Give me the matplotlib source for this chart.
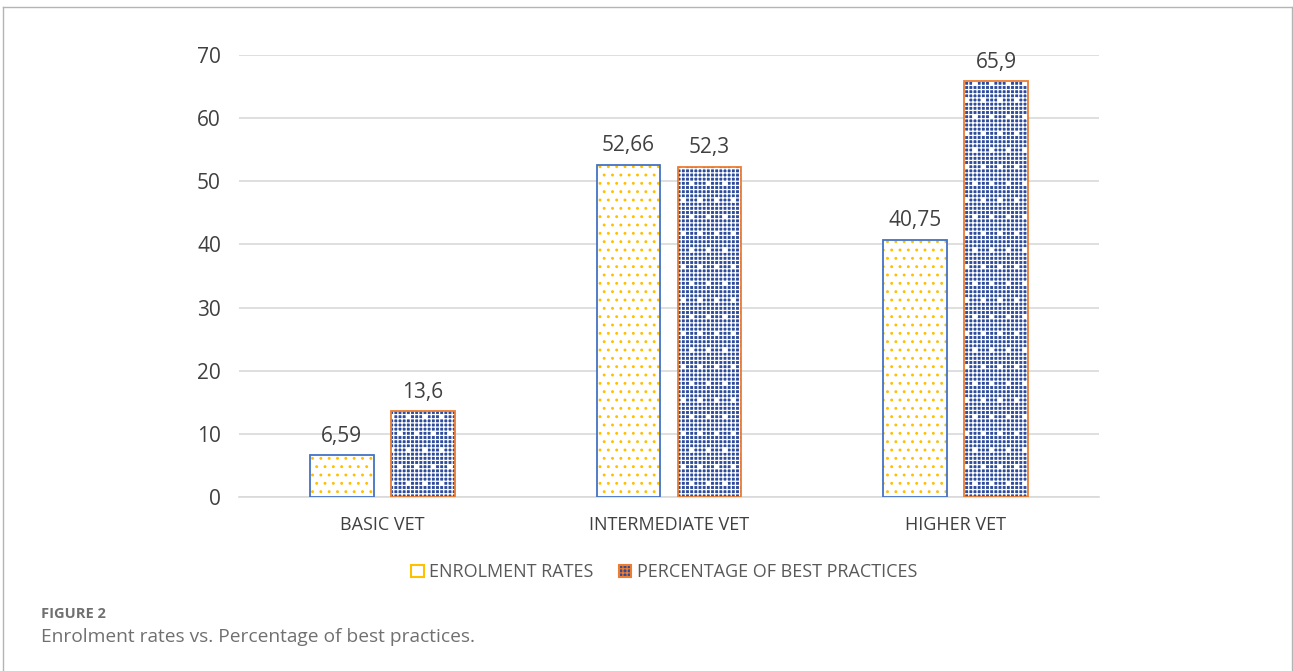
import matplotlib
matplotlib.use("Agg")
import matplotlib.pyplot as plt
from matplotlib.patches import Patch
from matplotlib.lines import Line2D
import numpy as np

categories = ["BASIC VET", "INTERMEDIATE VET", "HIGHER VET"]
enrolment_rates = [6.59, 52.66, 40.75]
best_practices = [13.6, 52.3, 65.9]
enrolment_labels = ["6,59", "52,66", "40,75"]
best_labels = ["13,6", "52,3", "65,9"]
y_ticks = [0, 10, 20, 30, 40, 50, 60, 70]

plt.rcParams["font.family"] = ["Open Sans", "DejaVu Sans"]
plt.rcParams["hatch.linewidth"] = 0.9

TEXT = "#404040"
GRID = "#D9D9D9"
YELLOW = "#FFC000"
BLUE_EDGE = "#4472C4"
ORANGE = "#ED7D31"
CHECK_BLUE = "#2E4C9C"

fig = plt.figure(figsize=(12.93, 6.71), dpi=100)
ax = fig.add_axes([0.1848, 0.2593, 0.6652, 0.6587])

x = np.arange(len(categories))
w = 0.222
off = 0.141

# Enrolment rates: white fill with yellow dots, blue outline
ax.bar(x - off, enrolment_rates, w, color="white", edgecolor=YELLOW,
       hatch="..", linewidth=0, zorder=3)
ax.bar(x - off, enrolment_rates, w, fill=False, edgecolor=BLUE_EDGE,
       linewidth=1.3, zorder=4)

# Best practices: blue check pattern with white dots, orange outline
ax.bar(x + off, best_practices, w, color=CHECK_BLUE, edgecolor="white",
       hatch="++++.", linewidth=0, zorder=3)
ax.bar(x + off, best_practices, w, fill=False, edgecolor=ORANGE,
       linewidth=1.3, zorder=4)

for xi, v, s in zip(x - off, enrolment_rates, enrolment_labels):
    ax.annotate(s, (xi, v), xytext=(0, 6), textcoords="offset points",
                ha="center", va="bottom", fontsize=15, color=TEXT)
for xi, v, s in zip(x + off, best_practices, best_labels):
    ax.annotate(s, (xi, v), xytext=(0, 6), textcoords="offset points",
                ha="center", va="bottom", fontsize=15, color=TEXT)

ax.set_xlim(-0.5, 2.5)
ax.set_ylim(0, 70)
ax.set_yticks(y_ticks)
ax.set_xticks(x)
ax.set_xticklabels(categories)
ax.tick_params(axis="both", length=0, labelcolor=TEXT)
ax.tick_params(axis="x", pad=14, labelsize=13)
ax.tick_params(axis="y", pad=13, labelsize=15)
ax.yaxis.grid(True, color=GRID, linewidth=1.2, zorder=0)
ax.set_axisbelow(True)
for side in ["top", "right", "left"]:
    ax.spines[side].set_visible(False)
ax.spines["bottom"].set_color(GRID)
ax.spines["bottom"].set_linewidth(1.2)

handles = [
    Patch(facecolor="white", edgecolor=YELLOW, linewidth=1.5,
          label="ENROLMENT RATES"),
    Patch(facecolor=CHECK_BLUE, edgecolor=ORANGE, linewidth=1.5,
          hatch="++++", label="PERCENTAGE OF BEST PRACTICES"),
]
fig.legend(handles=handles, loc="center", bbox_to_anchor=(0.5136, 0.147),
           ncol=2, frameon=False, fontsize=13, labelcolor="#595959",
           handlelength=0.7, handleheight=0.7, handletextpad=0.3,
           columnspacing=1.4)

fig.text(41 / 1293, 1 - 614 / 671, "FIGURE 2", fontsize=10.5,
         fontweight="bold", color="#707070", va="center", ha="left")
fig.text(41 / 1293, 1 - 637 / 671,
         "Enrolment rates vs. Percentage of best practices.",
         fontsize=13.8, color="#707070", va="center", ha="left")

# Page frame
fc = "#B4B4B4"
fig.add_artist(Line2D([3 / 1293, 1292 / 1293], [1 - 7 / 671, 1 - 7 / 671],
                      transform=fig.transFigure, color=fc, linewidth=1))
fig.add_artist(Line2D([3 / 1293, 3 / 1293], [0, 1 - 7 / 671],
                      transform=fig.transFigure, color=fc, linewidth=1))
fig.add_artist(Line2D([1292 / 1293, 1292 / 1293], [0, 1 - 7 / 671],
                      transform=fig.transFigure, color=fc, linewidth=1))

fig.savefig("out.png", dpi=100, facecolor="white")
